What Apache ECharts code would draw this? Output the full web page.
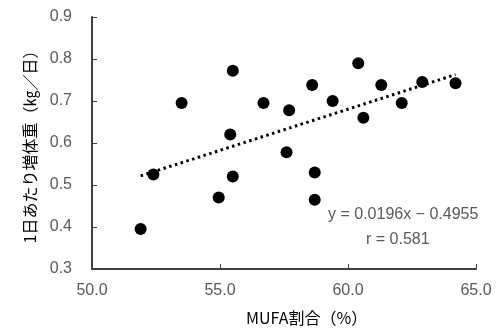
<!DOCTYPE html>
<html>
<head>
<meta charset="utf-8">
<script src="https://cdn.jsdelivr.net/npm/echarts@6/dist/echarts.min.js"></script>
<style>
  html, body { margin: 0; padding: 0; background: #fff; }
  #chart { width: 504px; height: 331px; }
</style>
</head>
<body>
<div id="chart"></div>
<script>
// MUFA ratio (%) vs daily weight gain (kg/day)
const mufa = [51.9, 52.4, 53.5, 54.95, 55.4, 55.5, 55.5, 56.7, 57.6, 57.7,
              58.6, 58.7, 58.7, 59.4, 60.4, 60.6, 61.3, 62.1, 62.9, 64.2];
const gain = [0.395, 0.525, 0.695, 0.47, 0.62, 0.772, 0.52, 0.695, 0.578, 0.678,
              0.738, 0.53, 0.465, 0.70, 0.79, 0.66, 0.738, 0.695, 0.745, 0.742];
const slope = 0.0196;
const intercept = -0.4955;
const eqLabel = 'y = 0.0196x \u2212 0.4955';
const rLabel = 'r = 0.581';

const points = mufa.map((x, i) => [x, gain[i]]);
const xMin = Math.min(...mufa);
const xMax = Math.max(...mufa);
const trend = [xMin, xMax].map(x => [x, slope * x + intercept]);

const font = "'Liberation Sans', Arial, sans-serif";
const jpFont = "'Noto Sans CJK JP', sans-serif";
const grey = '#595959';

const chart = echarts.init(document.getElementById('chart'));
chart.setOption({
  animation: false,
  grid: { left: 92, right: 28, top: 17, bottom: 62 },
  xAxis: {
    type: 'value',
    min: 50, max: 65, interval: 5,
    axisLine: { lineStyle: { color: '#404040', width: 2 } },
    axisTick: { inside: true, length: 5, lineStyle: { color: '#404040' } },
    axisLabel: {
      color: grey, fontSize: 16, fontFamily: font, margin: 14,
      formatter: v => v.toFixed(1)
    },
    splitLine: { show: false }
  },
  yAxis: {
    type: 'value',
    min: 0.3, max: 0.9, interval: 0.1,
    axisLine: { show: true, lineStyle: { color: '#404040', width: 2 } },
    axisTick: { show: true, inside: true, length: 5, lineStyle: { color: '#404040' } },
    axisLabel: {
      color: grey, fontSize: 16, fontFamily: font, margin: 20,
      formatter: v => v.toFixed(1)
    },
    splitLine: { show: false },
    name: '1日あたり増体重（㎏／日）',
    nameLocation: 'middle',
    nameGap: 54,
    nameTextStyle: { color: '#000', fontSize: 16, fontFamily: jpFont }
  },
  graphic: [
    {
      type: 'text', left: 246, top: 310,
      style: { text: 'MUFA割合（%）', fill: '#000', font: '16px ' + jpFont }
    },
    {
      type: 'text', left: 328, top: 207,
      style: { text: eqLabel, fill: grey, font: '16px ' + font }
    },
    {
      type: 'text', left: 366, top: 232,
      style: { text: rLabel, fill: grey, font: '16px ' + font }
    }
  ],
  series: [
    {
      type: 'line',
      data: trend,
      symbol: 'none',
      lineStyle: { color: '#000', width: 3, type: [2.5, 3.5] },
      z: 1
    },
    {
      type: 'scatter',
      data: points,
      symbolSize: 12,
      itemStyle: { color: '#000', opacity: 1 },
      z: 2
    }
  ]
});
</script>
</body>
</html>
